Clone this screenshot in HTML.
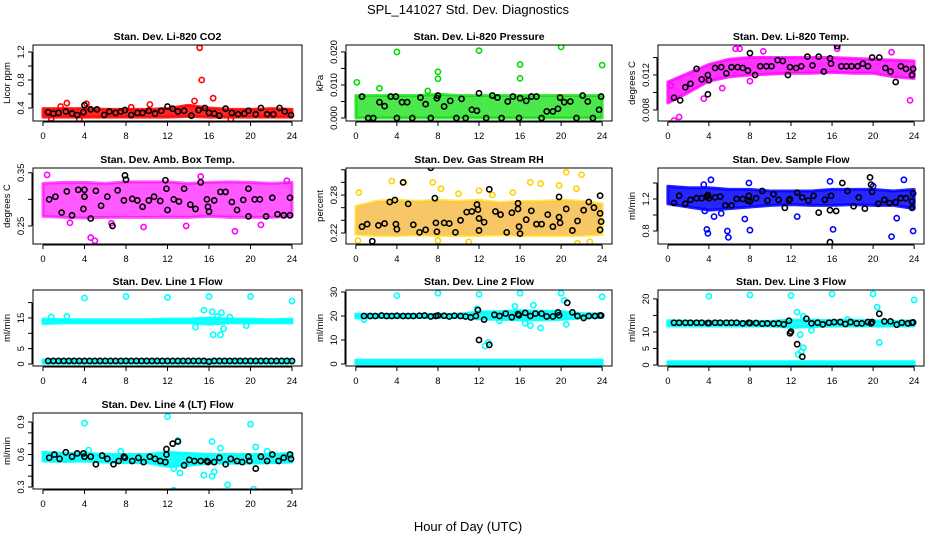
<!DOCTYPE html>
<html><head><meta charset="utf-8"><style>
body{margin:0;background:#fff;}
svg{display:block;font-family:"Liberation Sans",Arial,sans-serif;}
</style></head><body>
<svg id="chart" width="936" height="540" viewBox="0 0 936 540">
<text x="468" y="14" text-anchor="middle" font-size="13">SPL_141027  Std. Dev. Diagnostics</text>
<text x="468" y="531" text-anchor="middle" font-size="13">Hour of Day (UTC)</text>
</svg>
<script>
const bandHours = [0,2,4,6,8,10,12,14,16,18,20,22,24];
const co2Lo = [0.27,0.27,0.27,0.27,0.27,0.27,0.27,0.28,0.27,0.27,0.27,0.27,0.27];
const co2Hi = [0.39,0.39,0.39,0.38,0.38,0.38,0.39,0.44,0.40,0.38,0.38,0.39,0.38];
const co2Pts = [[15.1,1.26],[15.3,0.80],[16.4,0.54],[14.6,0.50],[2.3,0.47],[4.2,0.46],[10.3,0.45],[3.5,0.24],[0.8,0.25],[18.1,0.24],[1.7,0.42],[8.5,0.41]];
const co2Blk = [[0.5,0.34],[1,0.32],[1.5,0.33],[2.2,0.35],[2.8,0.32],[3.3,0.30],[3.9,0.34],[4,0.44],[4.6,0.38],[5.2,0.38],[5.9,0.30],[6.4,0.35],[7,0.33],[7.5,0.35],[7.9,0.37],[8.5,0.30],[9.1,0.33],[9.6,0.33],[10.2,0.36],[10.8,0.32],[11.4,0.36],[12,0.42],[12.5,0.39],[13,0.35],[13.6,0.36],[14.3,0.29],[15,0.37],[15.6,0.40],[16,0.33],[16.5,0.32],[17,0.29],[17.6,0.39],[18.2,0.33],[18.8,0.31],[19.4,0.32],[19.8,0.36],[20.5,0.31],[21,0.40],[21.6,0.31],[22.2,0.31],[22.8,0.40],[23.3,0.35],[23.9,0.30]];

const presLo = [0,0,0,0,0,0,0,0,0,0,0,0,0];
const presHi = [0.0068,0.0068,0.0068,0.0068,0.0072,0.0068,0.0068,0.0068,0.0068,0.0068,0.0068,0.0068,0.0068];
const presPts = [[0.1,0.0108],[4.0,0.0200],[12,0.0204],[20,0.0215],[16,0.0162],[16,0.0120],[8,0.0140],[8,0.0119],[2.3,0.0090],[24,0.0160],[7,0.0082]];
const presBlk = [[0.6,0.0065],[1.2,0],[1.7,0],[2.3,0.0048],[2.8,0.0036],[3.4,0.0065],[3.9,0.0065],[4,0],[4.5,0.0048],[5,0.0048],[5.5,0],[6.3,0.0062],[6.8,0.0042],[7.3,0],[7.9,0.0060],[8,0.0068],[8.6,0.0035],[9.2,0.0052],[9.8,0],[10.3,0.0058],[10.7,0],[11.3,0.0025],[11.8,0.0022],[12,0.0075],[12.7,0],[13.3,0.0068],[13.8,0.0062],[14.2,0],[14.8,0.0050],[15.3,0.0065],[15.9,0],[16,0.0060],[16.6,0.0052],[17.1,0.0065],[17.6,0.0065],[18.1,0],[18.6,0.0020],[19.2,0.0020],[19.7,0.0028],[19.9,0.0062],[20.3,0.0048],[20.9,0.0050],[21.5,0],[22.1,0.0068],[22.6,0.0050],[23.1,0],[23.7,0.0025],[23.9,0.0065]];

const tempLo = [0.0088,0.0100,0.0113,0.0118,0.0120,0.0121,0.0122,0.0122,0.0123,0.0122,0.0122,0.0118,0.0116];
const tempHi = [0.0112,0.0122,0.0132,0.0138,0.0140,0.0140,0.0140,0.0140,0.0140,0.0139,0.0138,0.0137,0.0136];
const tempPts = [[0.6,0.0068],[1.1,0.0072],[7,0.0150],[6.6,0.0150],[8,0.0113],[9.3,0.0147],[16.5,0.0150],[21.8,0.0146],[23.6,0.0091],[5.3,0.0105],[0.3,0.0108],[3.5,0.0093]];
const tempBlk = [[0.6,0.0094],[1.2,0.0091],[1.7,0.0106],[2.2,0.0110],[2.8,0.0127],[3.3,0.0115],[3.9,0.0120],[3.9,0.0098],[4.0,0.0114],[4.6,0.0128],[5.2,0.0129],[5.7,0.0122],[6.2,0.0129],[6.8,0.0129],[7.3,0.0128],[7.8,0.0125],[8,0.0145],[8.5,0.0120],[9,0.0130],[9.6,0.0130],[10.1,0.0130],[10.7,0.0137],[11.2,0.0136],[11.7,0.0120],[11.9,0.0129],[12.5,0.0128],[13,0.0130],[13.6,0.0141],[14.1,0.0131],[14.7,0.0141],[15.2,0.0124],[15.8,0.0139],[15.9,0.0133],[16.5,0.0153],[16.9,0.0130],[17.4,0.0130],[17.9,0.0130],[18.5,0.0130],[19,0.0133],[19.5,0.0130],[19.9,0.0140],[20.6,0.0140],[21.2,0.0128],[21.7,0.0124],[22.2,0.0112],[22.7,0.0130],[23.2,0.0127],[23.8,0.0120],[23.9,0.0127]];

const ambLo = [0.268,0.266,0.265,0.266,0.266,0.266,0.266,0.266,0.268,0.266,0.266,0.266,0.268];
const ambHi = [0.330,0.332,0.332,0.330,0.333,0.333,0.333,0.330,0.332,0.333,0.332,0.330,0.332];
const ambPts = [[4.6,0.228],[5.0,0.222],[15.2,0.343],[22.7,0.370],[0.4,0.346],[18.5,0.240],[2.6,0.256],[9.7,0.248],[13.8,0.250],[21,0.252],[23.5,0.335],[6.6,0.255]];
const ambBlk = [[0.6,0.300],[1.2,0.305],[1.8,0.275],[2.3,0.315],[2.8,0.270],[3.4,0.318],[3.9,0.282],[4.0,0.318],[4.0,0.305],[4.6,0.264],[5.1,0.316],[5.6,0.288],[6.2,0.305],[6.7,0.250],[7.2,0.317],[7.8,0.298],[7.9,0.345],[8,0.337],[8.6,0.301],[9.1,0.298],[9.6,0.286],[10.2,0.298],[10.7,0.305],[11.3,0.297],[11.8,0.336],[11.9,0.320],[12,0.280],[12.6,0.300],[13.1,0.296],[13.6,0.320],[14.2,0.290],[14.7,0.282],[15.2,0.332],[15.8,0.300],[15.9,0.286],[16,0.277],[16.5,0.298],[17.1,0.314],[17.6,0.314],[18.2,0.295],[18.7,0.280],[19.3,0.299],[19.8,0.320],[19.8,0.268],[20.4,0.300],[20.9,0.300],[21.5,0.268],[22.1,0.303],[22.6,0.272],[23.2,0.270],[23.8,0.270],[23.8,0.303]];

const rhLo = [0.218,0.216,0.216,0.217,0.216,0.216,0.216,0.217,0.216,0.216,0.216,0.216,0.218];
const rhHi = [0.262,0.270,0.272,0.270,0.272,0.270,0.272,0.268,0.270,0.270,0.272,0.270,0.266];
const rhPts = [[0.3,0.284],[3.5,0.302],[7.5,0.300],[12,0.287],[17,0.300],[20.5,0.316],[22,0.312],[18,0.298],[4.7,0.300],[13.3,0.280],[8.3,0.290],[10,0.282],[19.8,0.295],[15.3,0.284],[21.5,0.290],[0.2,0.208],[11,0.206],[21.6,0.204],[22.8,0.206],[8,0.208]];
const rhBlk = [[0.6,0.230],[1.1,0.234],[1.6,0.207],[2.2,0.232],[2.8,0.235],[3.3,0.269],[3.8,0.272],[3.9,0.234],[4.0,0.226],[4.6,0.300],[5.1,0.266],[5.6,0.233],[6.2,0.221],[6.8,0.225],[7.3,0.323],[7.7,0.275],[7.8,0.236],[7.9,0.222],[8.6,0.236],[9.1,0.235],[9.7,0.221],[10.2,0.240],[10.8,0.253],[11.3,0.254],[11.8,0.265],[11.9,0.257],[12,0.243],[12,0.224],[12.5,0.237],[13,0.289],[13.6,0.254],[14.1,0.249],[14.7,0.221],[15.2,0.252],[15.8,0.267],[15.8,0.258],[15.9,0.230],[16,0.219],[16.6,0.241],[17.1,0.255],[17.6,0.234],[18.1,0.234],[18.7,0.249],[19.2,0.230],[19.8,0.277],[19.8,0.245],[19.9,0.236],[20.5,0.258],[21.1,0.224],[21.6,0.239],[22.2,0.256],[22.7,0.269],[23.2,0.260],[23.8,0.279],[23.8,0.251],[23.9,0.238],[23.8,0.225]];

const flowLo = [1.14,1.10,1.06,1.08,1.10,1.12,1.13,1.12,1.12,1.13,1.12,1.12,1.08];
const flowHi = [1.36,1.34,1.34,1.32,1.32,1.30,1.30,1.30,1.32,1.32,1.32,1.30,1.32];
const flowPts = [[3.8,0.82],[3.9,0.77],[5.8,0.80],[5.9,0.72],[8.0,0.81],[16.1,0.82],[21.8,0.73],[23.9,0.80],[4.2,1.44],[3.5,1.38],[23.0,1.44],[12.6,0.98],[4.5,0.98],[22.3,0.96],[7.5,0.95],[3.6,1.05],[5.2,1.02],[15.8,1.42],[7.9,1.40],[20.0,1.36]];
const flowBlk = [[0.6,1.15],[1.1,1.24],[1.7,1.14],[2.2,1.19],[2.8,1.21],[3.3,1.21],[3.8,1.23],[3.9,1.25],[4.0,1.21],[4.6,1.22],[5.1,1.23],[5.6,1.12],[6.2,1.12],[6.7,1.20],[7.3,1.20],[7.8,1.18],[7.9,1.24],[8,1.17],[8.6,1.21],[9.2,1.30],[9.7,1.18],[10.3,1.26],[10.8,1.19],[11.4,1.09],[11.8,1.18],[11.9,1.20],[12.6,1.28],[13.1,1.22],[13.7,1.18],[14.2,1.24],[14.7,1.03],[15.3,1.19],[15.8,1.06],[15.9,1.24],[15.8,0.66],[16.4,1.05],[17,1.40],[17.5,1.30],[18.1,1.11],[18.6,1.22],[19.2,1.08],[19.7,1.47],[19.8,1.38],[19.9,1.29],[20.5,1.14],[21.1,1.19],[21.6,1.15],[22.2,1.16],[22.7,1.21],[23.2,1.21],[23.8,1.17],[23.8,1.09],[23.9,1.27]];

const l1Lo = [13.2,13.4,13.4,13.4,13.4,13.4,13.4,13.4,13.0,13.4,13.4,13.4,13.4];
const l1Hi = [14.6,14.4,14.4,14.4,14.4,14.4,14.6,14.6,15.0,14.6,14.6,14.4,14.6];
const l1Lo2 = [0.3,0.3,0.3,0.3,0.3,0.3,0.3,0.3,0.3,0.3,0.3,0.3,0.3];
const l1Hi2 = [1.3,1.3,1.3,1.3,1.3,1.3,1.3,1.3,1.3,1.3,1.3,1.3,1.3];
const l1Pts = [[4,21.5],[8,22],[12,21.7],[16,22],[20,22],[24,20.5],[15.5,17.5],[16.3,17],[17.2,16.7],[16.4,9.5],[17.1,9.5],[17.4,11.5],[14.7,12],[19.6,12.5],[18,15.3],[16.8,15.5],[0.8,15.3],[2.3,15.5]];
const l1BlkH = [0.5,1,1.5,2,2.5,3,3.5,4,4.5,5,5.5,6,6.5,7,7.5,8,8.5,9,9.5,10,10.5,11,11.5,12,12.5,13,13.5,14,14.5,15,15.5,16,16.5,17,17.5,18,18.5,19,19.5,20,20.5,21,21.5,22,22.5,23,23.5,24];
const l1BlkV = [1,1,1,1,1,1,1,1,1,1,1,1,1,1,1,1,1,1,1,1,1,1,1,1,1,1,1,1,1,1,1,0.8,1,1,1,1,1,1,1,1,1,1,1,1,1,1,1,1];

const l2Lo = [19.2,19.4,19.4,19.4,19.4,19.4,18.8,18.6,18.4,18.4,18.6,19.2,19.4];
const l2Hi = [20.8,20.6,20.6,20.6,20.6,20.8,21.6,21.8,22.2,22.0,21.8,21.0,20.8];
const l2Lo2 = [0,0,0,0,0,0,0,0,0,0,0,0,0];
const l2Hi2 = [1.6,1.6,1.6,1.6,1.6,1.6,1.6,1.6,1.6,1.6,1.6,1.6,1.6];
const l2Pts = [[4,28.5],[8,29.5],[12,29],[16,29.5],[20,29.5],[24,28],[12.9,9],[12.6,7.5],[15.5,24],[17,16],[18,15],[20.5,16.5],[16.5,17],[20.3,26.5],[11.8,23],[0.8,18.5],[17.3,24.5],[14,18]];
const l2Blk = [[0.8,20],[1.4,20],[1.9,20],[2.5,20.2],[3,20],[3.5,20],[4,20.1],[4.6,20],[5.1,20],[5.6,20],[6.2,20.1],[6.7,20.2],[7.3,19.8],[7.8,20],[8,20.2],[8.6,20.1],[9.1,19.8],[9.6,20.1],[10.2,20],[10.7,19.8],[11.2,19.4],[11.7,20],[11.9,22.5],[12,10],[12.5,18.5],[13,8],[13.5,20.5],[14,20],[14.6,21],[15.2,19.5],[15.8,20.8],[15.9,20.3],[16.5,21.3],[17,20],[17.5,21],[18.1,21],[18.6,19.8],[19.2,19.8],[19.7,21.5],[19.8,20.3],[20.6,25.5],[21.1,21.5],[21.6,20],[22.2,19.2],[22.7,20],[23.3,20],[23.8,20.2],[23.9,20.2]];

const l3Lo = [11.8,11.8,11.8,11.8,11.8,11.8,11.4,11.6,11.8,11.8,11.8,11.8,11.8];
const l3Hi = [13.4,13.2,13.2,13.2,13.2,13.2,13.6,13.6,13.4,13.6,13.4,13.2,13.4];
const l3Lo2 = [0,0,0,0,0,0,0,0,0,0,0,0,0];
const l3Hi2 = [1.0,1.0,1.0,1.0,1.0,1.0,1.0,1.0,1.0,1.0,1.0,1.0,1.0];
const l3Pts = [[4,20.8],[8,21.2],[12,21],[16,21.5],[20,21.5],[24,19.7],[12.6,16],[13.2,14.8],[12.9,9.2],[13.2,5.2],[13,4],[12.7,3.2],[20.4,17.5],[20.6,6.8],[14,10.5],[17.5,13.8]];
const l3Blk = [[0.6,12.8],[1.1,12.8],[1.7,12.8],[2.2,12.8],[2.8,12.8],[3.3,12.8],[3.9,12.7],[4,12.7],[4.6,12.8],[5.1,12.8],[5.7,12.8],[6.2,12.8],[6.7,12.8],[7.3,12.6],[7.9,12.8],[8,12.7],[8.6,12.7],[9.2,12.5],[9.7,12.6],[10.3,12.5],[10.8,12.6],[11.3,12.3],[11.8,13.4],[11.9,9.6],[12,10.1],[12.6,6.3],[13.1,2.5],[13.5,14],[14,12.6],[14.6,12.8],[15.1,12.3],[15.7,12.8],[16.2,13],[16.8,13],[17.3,12.4],[17.8,13],[18.4,12.6],[18.9,12.6],[19.5,13],[19.8,12.6],[19.9,13],[20.6,15.5],[21.1,13.2],[21.7,13.2],[22.3,12.2],[22.8,12.8],[23.4,12.6],[23.8,12.8],[23.9,12.9]];

const l4Lo = [0.540,0.535,0.540,0.530,0.525,0.525,0.490,0.500,0.520,0.520,0.520,0.525,0.530];
const l4Hi = [0.620,0.610,0.610,0.600,0.600,0.600,0.620,0.610,0.600,0.600,0.600,0.600,0.610];
const l4Pts = [[4,0.89],[12,0.95],[20,0.88],[13,0.73],[16.3,0.72],[20.5,0.67],[12.6,0.27],[20.3,0.28],[17.8,0.32],[16.3,0.40],[15.5,0.41],[13.2,0.43],[16.5,0.44],[4.4,0.64],[7.5,0.63],[12.6,0.47],[17.1,0.66],[21.6,0.63]];
const l4Blk = [[0.6,0.57],[1.1,0.60],[1.6,0.56],[2.2,0.62],[2.8,0.58],[3.3,0.61],[3.9,0.61],[4,0.58],[4.6,0.58],[5.1,0.51],[5.7,0.59],[6.2,0.56],[6.8,0.51],[7.3,0.54],[7.8,0.58],[7.9,0.57],[8.6,0.54],[9.2,0.57],[9.7,0.53],[10.3,0.58],[10.8,0.56],[11.3,0.54],[11.8,0.53],[11.9,0.60],[11.9,0.65],[12.5,0.70],[13,0.72],[13.6,0.50],[14.1,0.55],[14.6,0.54],[15.2,0.54],[15.8,0.54],[15.9,0.53],[16.5,0.53],[17,0.57],[17.6,0.51],[18.1,0.56],[18.7,0.54],[19.2,0.53],[19.8,0.58],[19.9,0.54],[20.5,0.47],[21,0.58],[21.6,0.54],[22.1,0.60],[22.7,0.54],[23.2,0.57],[23.8,0.60],[23.9,0.56]];

const cols = [[33,302],[346,612],[658,924]];
const rows = [[45,121],[168,244],[290,366],[413,489]];
const xTicks = [0,4,8,12,16,20,24];

const panels = [
 {id:'co2',title:'Stan. Dev. Li-820 CO2',ylab:'Licor ppm',c:0,r:0,ymin:0.214,ymax:1.3,ticks:[0.4,0.6,0.8,1.0,1.2],labs:['0.4',null,'0.8',null,'1.2'],color:'#ff0000',op:0.85,bands:[[co2Lo,co2Hi]],pts:co2Pts,blk:co2Blk},
 {id:'pressure',title:'Stan. Dev. Li-820 Pressure',ylab:'kPa',c:1,r:0,ymin:-0.0009,ymax:0.0221,ticks:[0,0.005,0.01,0.015,0.02],labs:['0.000',null,'0.010',null,'0.020'],color:'#00dd00',op:0.7,bands:[[presLo,presHi]],pts:presPts,blk:presBlk},
 {id:'temp',title:'Stan. Dev. Li-820 Temp.',ylab:'degrees C',c:2,r:0,ymin:0.00674,ymax:0.01543,ticks:[0.008,0.010,0.012,0.014],labs:['0.008',null,'0.012',null],color:'#ff00ff',op:0.8,bands:[[tempLo,tempHi]],pts:tempPts,blk:tempBlk},
 {id:'ambtemp',title:'Stan. Dev. Amb. Box Temp.',ylab:'degrees C',c:0,r:1,ymin:0.216,ymax:0.359,ticks:[0.25,0.30,0.35],labs:['0.25',null,'0.35'],color:'#ff00ff',op:0.65,bands:[[ambLo,ambHi]],pts:ambPts,blk:ambBlk},
 {id:'rh',title:'Stan. Dev. Gas Stream RH',ylab:'percent',c:1,r:1,ymin:0.2026,ymax:0.3227,ticks:[0.22,0.24,0.26,0.28,0.30,0.32],labs:['0.22',null,null,'0.28',null,null],color:'#f2a000',stroke:'#ffd000',op:0.6,bands:[[rhLo,rhHi]],pts:rhPts,blk:rhBlk},
 {id:'sampleflow',title:'Stan. Dev. Sample Flow',ylab:'ml/min',c:2,r:1,ymin:0.6375,ymax:1.5875,ticks:[0.8,1.0,1.2,1.4],labs:['0.8',null,'1.2',null],color:'#0000ff',op:0.85,bands:[[flowLo,flowHi]],pts:flowPts,blk:flowBlk},
 {id:'line1',title:'Stan. Dev. Line 1 Flow',ylab:'ml/min',c:0,r:2,ymin:-0.65,ymax:24.1,ticks:[0,5,10,15,20],labs:['0','5',null,'15',null],color:'#00ffff',op:0.9,bands:[[l1Lo,l1Hi],[l1Lo2,l1Hi2]],pts:l1Pts,blk:l1BlkH.map((h,i)=>[h,l1BlkV[i]])},
 {id:'line2',title:'Stan. Dev. Line 2 Flow',ylab:'ml/min',c:1,r:2,ymin:-0.83,ymax:30.83,ticks:[0,10,20,30],labs:['0','10','20','30'],color:'#00ffff',op:0.9,bands:[[l2Lo,l2Hi],[l2Lo2,l2Hi2]],pts:l2Pts,blk:l2Blk},
 {id:'line3',title:'Stan. Dev. Line 3 Flow',ylab:'ml/min',c:2,r:2,ymin:-0.3,ymax:22.7,ticks:[0,5,10,15,20],labs:['0','5','10',null,'20'],color:'#00ffff',op:0.9,bands:[[l3Lo,l3Hi],[l3Lo2,l3Hi2]],pts:l3Pts,blk:l3Blk},
 {id:'line4',title:'Stan. Dev. Line 4 (LT) Flow',ylab:'ml/min',c:0,r:3,ymin:0.2815,ymax:0.983,ticks:[0.3,0.4,0.5,0.6,0.7,0.8,0.9],labs:['0.3',null,null,'0.6',null,null,'0.9'],color:'#00ffff',op:0.9,bands:[[l4Lo,l4Hi]],pts:l4Pts,blk:l4Blk}
];

const NS='http://www.w3.org/2000/svg';
const svg=document.getElementById('chart');
function mk(tag,attrs,parent){const e=document.createElementNS(NS,tag);for(const k in attrs)e.setAttribute(k,attrs[k]);(parent||svg).appendChild(e);return e;}

panels.forEach(p=>{
  const [L,R]=cols[p.c],[T,B]=rows[p.r];
  const g=mk('g',{});
  
  
  const xs=h=>L+(h+0.96)/25.92*(R-L);
  const ys=v=>B-(v-p.ymin)/(p.ymax-p.ymin)*(B-T);
  const clip=mk('clipPath',{id:'clip-'+p.id},g);
  mk('rect',{x:L,y:T,width:R-L,height:B-T},clip);
  const plot=mk('g',{'clip-path':'url(#clip-'+p.id+')'},g);
  p.bands.forEach(([lo,hi])=>{
    const up=bandHours.map((h,i)=>xs(h)+','+ys(hi[i]));
    const dn=bandHours.map((h,i)=>xs(h)+','+ys(lo[i])).reverse();
    const poly=mk('polygon',{points:up.concat(dn).join(' '),fill:p.color,'fill-opacity':p.op,stroke:p.stroke||p.color,'stroke-opacity':p.op,'stroke-width':3,'stroke-linejoin':'round'},plot);
    
    
  });
  p.pts.forEach(([h,v])=>{
    const c=mk('circle',{cx:xs(h),cy:ys(v),r:2.6,fill:'none',stroke:p.stroke||p.color,'stroke-width':1.6},plot);
    
    
  });
  p.blk.forEach(([h,v])=>{
    const c=mk('circle',{cx:xs(h),cy:ys(v),r:2.6,fill:'none',stroke:'#000','stroke-width':1.6},plot);
    
    
  });
  const box=mk('rect',{x:L,y:T,width:R-L,height:B-T,fill:'none',stroke:'#000','stroke-width':1},g);
  
  
  const t=mk('text',{x:(L+R)/2,y:T-5,'text-anchor':'middle','font-size':10.5,'font-weight':'bold'},g);
  t.textContent=p.title;
  
  
  mk('line',{x1:xs(0),x2:xs(24),y1:B+1,y2:B+1,stroke:'#000'},g);
  xTicks.forEach(h=>{
    mk('line',{x1:xs(h),x2:xs(h),y1:B+1,y2:B+5,stroke:'#000'},g);
    const tl=mk('text',{x:xs(h),y:B+18,'text-anchor':'middle','font-size':9.5},g);
    tl.textContent=h;
    
    
  });
  mk('line',{x1:L-1,x2:L-1,y1:ys(p.ticks[0]),y2:ys(p.ticks[p.ticks.length-1]),stroke:'#000'},g);
  p.ticks.forEach((v,i)=>{
    const y=ys(v);
    mk('line',{x1:L-5,x2:L-1,y1:y,y2:y,stroke:'#000'},g);
    if(p.labs[i]){
      const tl=mk('text',{x:L-9,y:y,'text-anchor':'middle','font-size':9.5,transform:'rotate(-90 '+(L-9)+' '+y+')'},g);
      tl.textContent=p.labs[i];
      
      
    }
  });
  const yl=mk('text',{x:L-23,y:(T+B)/2,'text-anchor':'middle','font-size':9.5,transform:'rotate(-90 '+(L-23)+' '+((T+B)/2)+')'},g);
  yl.textContent=p.ylab;
  
  
});
</script>
</body></html>
